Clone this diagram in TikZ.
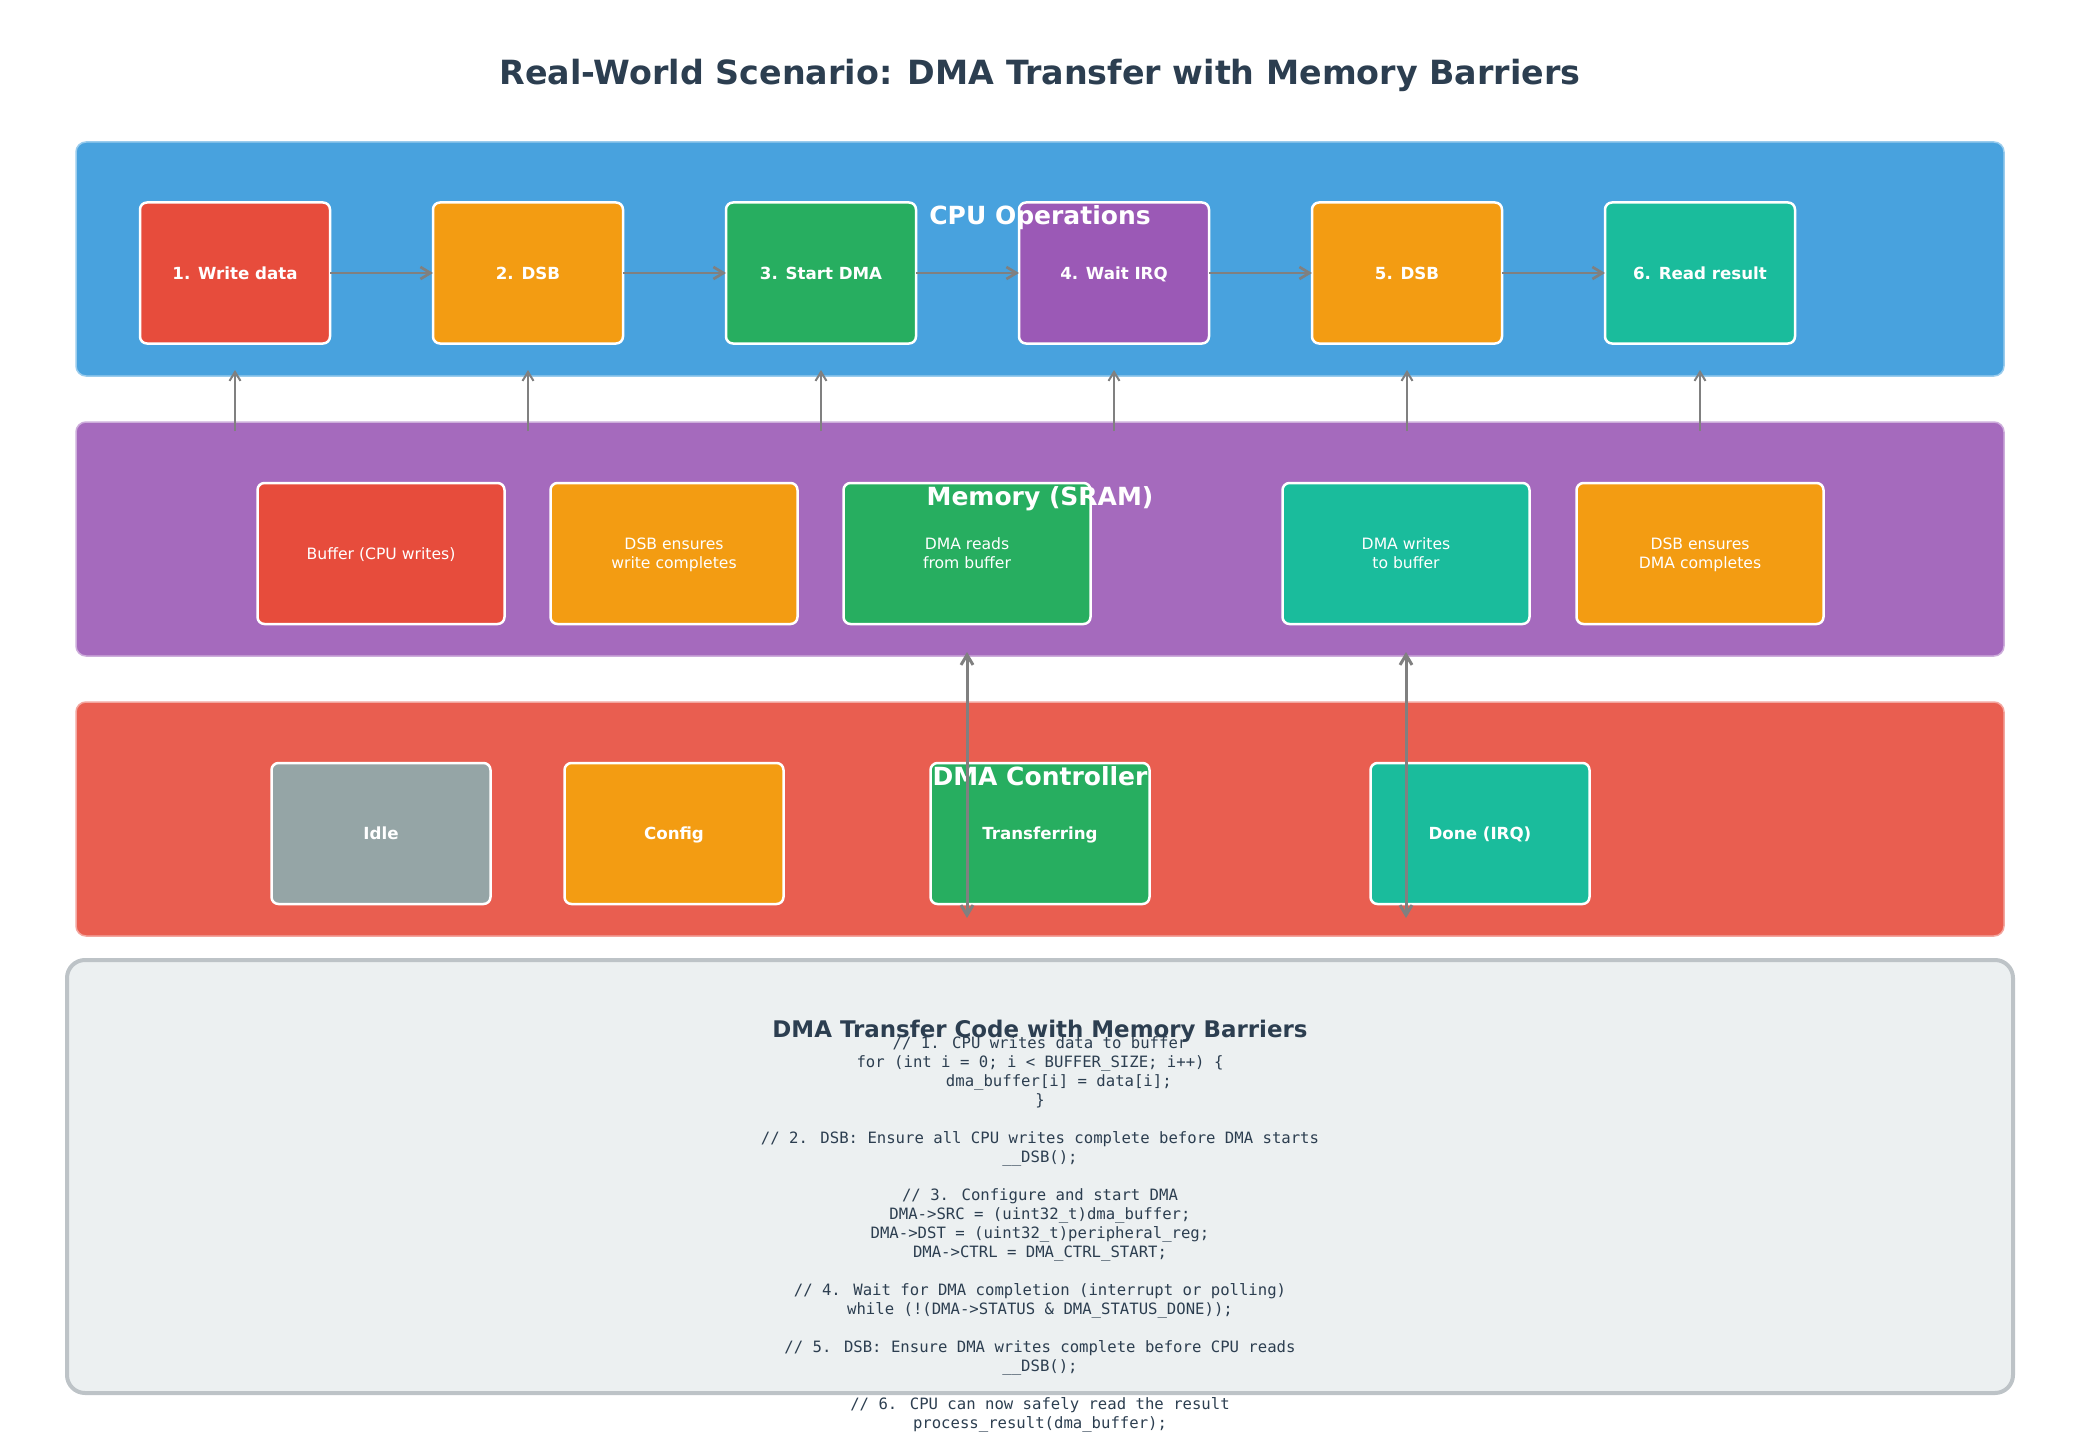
\documentclass[tikz,border=0pt]{standalone}
\usepackage{fontspec}
\setmainfont{DejaVu Sans}
\newfontfamily\codefont{DejaVu Sans Mono}
\usetikzlibrary{arrows.meta}

\definecolor{titlecol}{HTML}{2C3E50}
\definecolor{cpupanel}{HTML}{48A2DE}
\definecolor{mempanel}{HTML}{A56ABD}
\definecolor{dmapanel}{HTML}{E95E50}
\definecolor{cred}{HTML}{E74C3C}
\definecolor{corange}{HTML}{F39C12}
\definecolor{cgreen}{HTML}{27AE60}
\definecolor{cpurple}{HTML}{9B59B6}
\definecolor{cteal}{HTML}{1ABC9C}
\definecolor{cgray}{HTML}{95A5A6}
\definecolor{arrowgray}{HTML}{808080}
\definecolor{codefill}{HTML}{ECF0F1}
\definecolor{codeborder}{HTML}{BDC3C7}

\newcommand{\twol}[2]{\begin{tabular}[t]{@{}c@{}}#1\\#2\end{tabular}}

\begin{document}
\begin{tikzpicture}[x=1pt,y=-1pt,
  panel/.style={rounded corners=10pt, minimum width=1928pt, minimum height=234pt, inner sep=0pt, outer sep=0pt, line width=1.5pt},
  ptitle/.style={text=white, font=\fontsize{25}{30}\selectfont\bfseries, anchor=base, inner sep=0pt},
  boxbase/.style={draw=white, line width=2.5pt, rounded corners=7pt, minimum height=141pt, inner sep=0pt, outer sep=0pt, text=white},
  cpubox/.style={boxbase, minimum width=190pt, font=\fontsize{16.67}{20}\selectfont\bfseries, text height=12.15pt, text depth=0pt},
  dmabox/.style={boxbase, minimum width=219pt, font=\fontsize{16.67}{20}\selectfont\bfseries, text height=12.15pt, text depth=0pt},
  membox/.style={boxbase, minimum width=247pt, font=\fontsize{15.625}{18.7}\selectfont, text height=11.39pt, text depth=0pt},
  memtwo/.style={membox, text depth=18.7pt},
  codeline/.style={font=\codefont\fontsize{15.625}{19}\selectfont, text=titlecol, anchor=base, inner sep=0pt},
  flow/.style={draw=arrowgray, line width=2.7pt, -{Straight Barb[length=10pt,width=12pt]}},
  upflow/.style={draw=arrowgray, line width=2pt, -{Straight Barb[length=9pt,width=11pt]}},
  biflow/.style={draw=arrowgray, line width=3pt, {Straight Barb[length=10pt,width=12pt]}-{Straight Barb[length=10pt,width=12pt]}}
]
\useasboundingbox (0,0) rectangle (2080,1447);

% title
\node[anchor=base, inner sep=0pt, text=titlecol, font=\fontsize{33.33}{40}\selectfont\bfseries] (title) at (1040,85) {Real-World Scenario: DMA Transfer with Memory Barriers};

% panels
\node[panel, fill=cpupanel, draw=cpupanel!55!white] (cpup) at (1040,259) {};
\node[panel, fill=mempanel, draw=mempanel!55!white] (memp) at (1040,539) {};
\node[panel, fill=dmapanel, draw=dmapanel!55!white] (dmap) at (1040,819) {};

% CPU boxes
\node[cpubox, fill=cred] (c1) at (235,273) {1. Write data};
\node[cpubox, fill=corange] (c2) at (528,273) {2. DSB};
\node[cpubox, fill=cgreen] (c3) at (821,273) {3. Start DMA};
\node[cpubox, fill=cpurple] (c4) at (1114,273) {4. Wait IRQ};
\node[cpubox, fill=corange] (c5) at (1407,273) {5. DSB};
\node[cpubox, fill=cteal] (c6) at (1700,273) {6. Read result};

% Memory boxes
\node[membox, fill=cred] (m1) at (381,553.5) {Buffer (CPU writes)};
\node[memtwo, fill=corange] (m2) at (674,553.5) {\twol{DSB ensures}{write completes}};
\node[memtwo, fill=cgreen] (m3) at (967,553.5) {\twol{DMA reads}{from buffer}};
\node[memtwo, fill=cteal] (m4) at (1406,553.5) {\twol{DMA writes}{to buffer}};
\node[memtwo, fill=corange] (m5) at (1700,553.5) {\twol{DSB ensures}{DMA completes}};

% DMA boxes
\node[dmabox, fill=cgray] (d1) at (381,833.5) {Idle};
\node[dmabox, fill=corange] (d2) at (674,833.5) {Config};
\node[dmabox, fill=cgreen] (d3) at (1040,833.5) {Transferring};
\node[dmabox, fill=cteal] (d4) at (1480,833.5) {Done (IRQ)};

% panel titles
\node[ptitle] (cput) at (1040,225) {CPU Operations};
\node[ptitle] (memt) at (1040,505) {Memory (SRAM)};
\node[ptitle] (dmat) at (1040,785) {DMA Controller};

% horizontal flow
\draw[flow] (c1.east) -- (c2.west);
\draw[flow] (c2.east) -- (c3.west);
\draw[flow] (c3.east) -- (c4.west);
\draw[flow] (c4.east) -- (c5.west);
\draw[flow] (c5.east) -- (c6.west);

% memory -> cpu arrows
\foreach \i/\x in {1/235,2/528,3/821,4/1114,5/1407,6/1700}{
  \coordinate (ua\i) at (\x,431);
  \coordinate (ub\i) at (\x,370);
}
\foreach \i in {1,...,6}{ \draw[upflow] (ua\i) -- (ub\i); }

% memory <-> dma arrows
\coordinate (da1) at (967,652);
\coordinate (db1) at (967,918);
\coordinate (da2) at (1406,652);
\coordinate (db2) at (1406,918);
\draw[biflow] (da1) -- (db1);
\draw[biflow] (da2) -- (db2);

% code box
\node[draw=codeborder, fill=codefill, line width=4pt, rounded corners=18pt, minimum width=1946pt, minimum height=433pt, inner sep=0pt] (codebox) at (1040,1176.5) {};
\node[anchor=base, inner sep=0pt, text=titlecol, font=\fontsize{22.92}{27}\selectfont\bfseries] (codet) at (1040,1037) {DMA Transfer Code with Memory Barriers};

\node[codeline] (l1) at (1040,1048.0) {// 1. CPU writes data to buffer};
\node[codeline] (l2) at (1040,1067.0) {for (int i = 0; i < BUFFER\_SIZE; i++) \{};
\node[codeline] (l3) at (1040,1086.1) {\hphantom{0000}dma\_buffer[i] = data[i];};
\node[codeline] (l4) at (1040,1105.1) {\}};
\node[codeline] (l6) at (1040,1143.2) {// 2. DSB: Ensure all CPU writes complete before DMA starts};
\node[codeline] (l7) at (1040,1162.2) {\_\_DSB();};
\node[codeline] (l9) at (1040,1200.2) {// 3. Configure and start DMA};
\node[codeline] (l10) at (1040,1219.3) {DMA->SRC = (uint32\_t)dma\_buffer;};
\node[codeline] (l11) at (1040,1238.3) {DMA->DST = (uint32\_t)peripheral\_reg;};
\node[codeline] (l12) at (1040,1257.3) {DMA->CTRL = DMA\_CTRL\_START;};
\node[codeline] (l14) at (1040,1295.4) {// 4. Wait for DMA completion (interrupt or polling)};
\node[codeline] (l15) at (1040,1314.4) {while (!(DMA->STATUS \& DMA\_STATUS\_DONE));};
\node[codeline] (l17) at (1040,1352.5) {// 5. DSB: Ensure DMA writes complete before CPU reads};
\node[codeline] (l18) at (1040,1371.5) {\_\_DSB();};
\node[codeline] (l20) at (1040,1409.6) {// 6. CPU can now safely read the result};
\node[codeline] (l21) at (1040,1428.6) {process\_result(dma\_buffer);};
\end{tikzpicture}
\end{document}
